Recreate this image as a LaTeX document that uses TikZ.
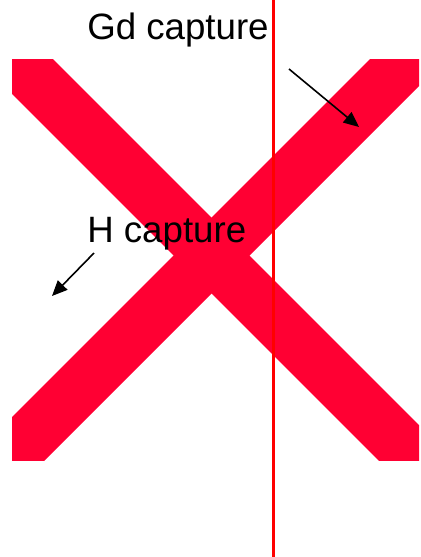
\documentclass[tikz,border=0pt]{standalone}
\usepackage{fontspec}
\setmainfont{Liberation Sans}
\usetikzlibrary{arrows.meta}
\definecolor{crossred}{RGB}{255,0,51}

\begin{document}
\begin{tikzpicture}[
    x=0.75pt, y=-0.75pt,
    % Styles
    band/.style={line width=40.3pt, color=crossred},
    cutline/.style={line width=2.25pt, color=red},
    label/.style={anchor=base west, inner sep=0pt, font=\fontsize{27.5}{32}\selectfont},
    arrow/.style={-{Triangle[length=11.5pt, width=10pt]}, line width=1.2pt}
]
\useasboundingbox (0,0) rectangle (421,557);

% The cross, cut to its frame
\begin{scope}
    \clip (12,59) rectangle (419,460);
    \draw[band] (-50,-6) -- (520,564);
    \draw[band] (-50,517) -- (520,-53);
\end{scope}

% Vertical line
\coordinate (top) at (273,0);
\coordinate (bottom) at (273,557);
\draw[cutline] (top) -- (bottom);

% Labels
\node[label] (gd) at (87,39) {Gd capture};
\node[label] (h) at (87,242) {H capture};

% Arrows
\coordinate (gdstart) at (289,69);
\coordinate (gdend) at (359,127);
\coordinate (hstart) at (94,253);
\coordinate (hend) at (52,296);
\draw[arrow] (gdstart) -- (gdend);
\draw[arrow] (hstart) -- (hend);

\end{tikzpicture}
\end{document}
